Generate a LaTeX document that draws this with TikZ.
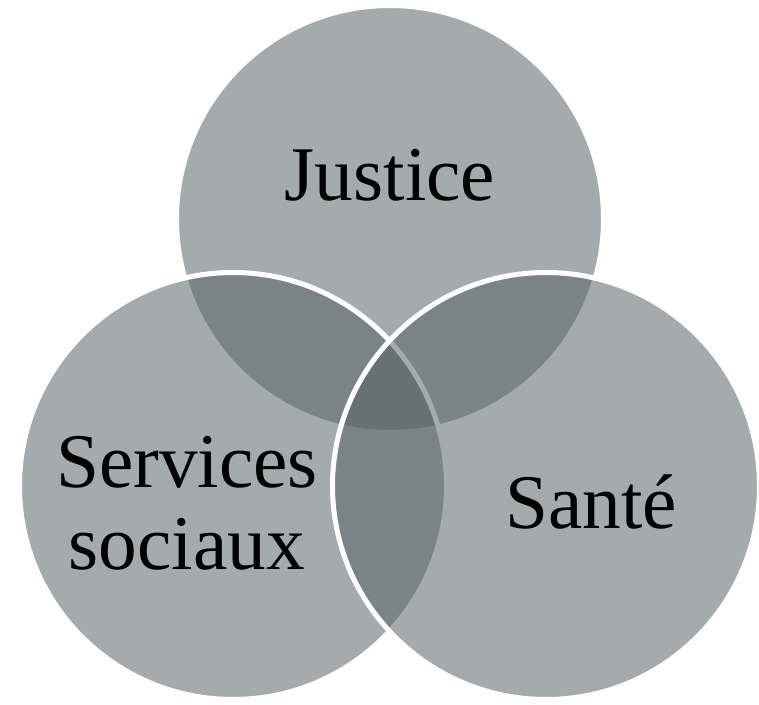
\documentclass[tikz,border=0pt]{standalone}
\usepackage{fontspec}
\setmainfont{Liberation Serif}
\definecolor{vennfill}{RGB}{85,97,100}
\begin{document}
\begin{tikzpicture}[x=0.03cm, y=-0.03cm,
  venn/.style={fill=vennfill, fill opacity=0.53, draw=white, line width=4.3pt},
  label/.style={inner sep=0pt, text=black, font=\fontsize{66}{70}\selectfont}]
  \useasboundingbox (0,0) rectangle (759,705);
  % three overlapping sets, drawn top, left, right
  \path[venn] (390,219) circle[radius=213.5] coordinate (cJ);
  \path[venn] (233,486) circle[radius=213.5] coordinate (cS);
  \path[venn] (546,486) circle[radius=213.5] coordinate (cH);
  \node[label, anchor=base] (justice) at (390,200) {Justice};
  \node[label, align=center] (social) at (187,503) {Services\\sociaux};
  \node[label, anchor=base] (sante) at (591,528) {Santé};
\end{tikzpicture}
\end{document}
